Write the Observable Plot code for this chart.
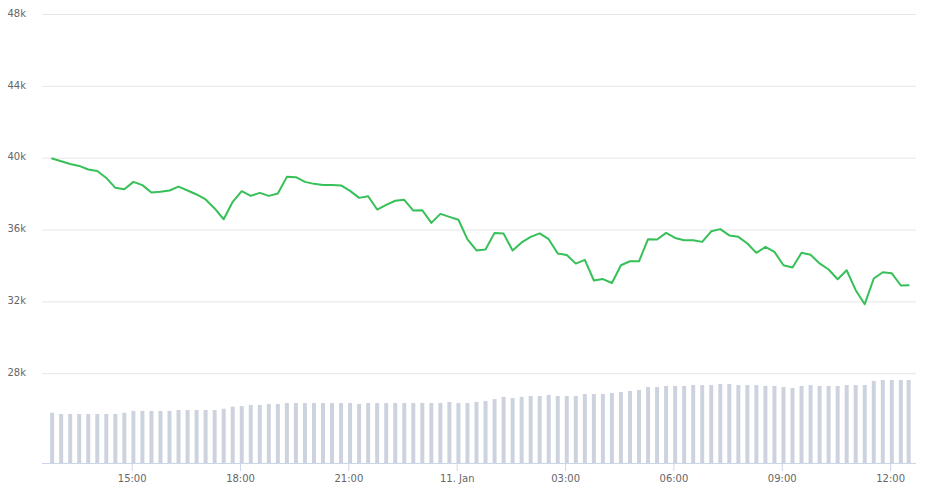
<!DOCTYPE html>
<html>
<head>
<meta charset="utf-8">
<script src="https://cdn.jsdelivr.net/npm/d3@7"></script>
<script src="https://cdn.jsdelivr.net/npm/@observablehq/plot@0.6"></script>
<style>
  html, body { margin: 0; padding: 0; background: #fff; }
  #chart svg { display: block; }
</style>
</head>
<body>
<div id="chart"></div>
<script>
// Price series (15-minute samples, last one a partial interval)
const prices = [
  39980, 39830, 39680, 39570, 39370, 39290, 38900, 38350, 38270, 38680,
  38500, 38090, 38130, 38200, 38420, 38200, 37980, 37700, 37200, 36600,
  37570, 38160, 37900, 38070, 37900, 38030, 38960, 38940, 38680, 38570,
  38510, 38500, 38480, 38180, 37790, 37880, 37140, 37400, 37630, 37680,
  37080, 37100, 36400, 36900, 36730, 36570, 35480, 34860, 34920, 35840,
  35800, 34860, 35310, 35620, 35810, 35490, 34690, 34610, 34130, 34340,
  33190, 33270, 33050, 34040, 34260, 34260, 35490, 35470, 35840, 35560,
  35430, 35430, 35340, 35930, 36050, 35700, 35620, 35250, 34730, 35060,
  34780, 34040, 33910, 34730, 34620, 34140, 33800, 33260, 33760, 32650,
  31870, 33300, 33650, 33590, 32910, 32930
];
// Bar series (top of each bar, read on the same axis)
const bars = [
  25800, 25730, 25730, 25730, 25730, 25730, 25730, 25730, 25800, 25900,
  25900, 25900, 25900, 25900, 25950, 25950, 25950, 25950, 25950, 26020,
  26140, 26170, 26230, 26230, 26290, 26290, 26340, 26340, 26340, 26340,
  26340, 26340, 26340, 26340, 26290, 26340, 26340, 26340, 26340, 26340,
  26340, 26340, 26340, 26340, 26400, 26340, 26340, 26400, 26450, 26560,
  26680, 26620, 26680, 26730, 26730, 26790, 26730, 26730, 26730, 26840,
  26840, 26840, 26900, 26950, 27010, 27070, 27230, 27230, 27290, 27290,
  27290, 27340, 27340, 27340, 27400, 27400, 27340, 27340, 27340, 27290,
  27290, 27230, 27180, 27290, 27340, 27290, 27290, 27290, 27340, 27340,
  27340, 27570, 27620, 27620, 27620, 27620
];
// Time stamps: regular 15-minute steps, then a final partial point
const startTime = new Date(Date.UTC(2021, 0, 10, 12, 47));
const lastTime = new Date(Date.UTC(2021, 0, 11, 12, 30));
const times = prices.map((_, i) => i < prices.length - 1 ? d3.utcMinute.offset(startTime, 15 * i) : lastTime);

const yTicks = [28000, 32000, 36000, 40000, 44000, 48000];
const xTicks = [
  new Date(Date.UTC(2021, 0, 10, 15)), new Date(Date.UTC(2021, 0, 10, 18)),
  new Date(Date.UTC(2021, 0, 10, 21)), new Date(Date.UTC(2021, 0, 11, 0)),
  new Date(Date.UTC(2021, 0, 11, 3)), new Date(Date.UTC(2021, 0, 11, 6)),
  new Date(Date.UTC(2021, 0, 11, 9)), new Date(Date.UTC(2021, 0, 11, 12))
];
const xDomain = [new Date(Date.UTC(2021, 0, 10, 12, 31)), new Date(Date.UTC(2021, 0, 11, 12, 43))];
const yMin = 23000, yMax = 48000;

const data = times.map((t, i) => ({t, price: prices[i], bar: bars[i]}));

const fmtX = d => d.getUTCHours() === 0 ? d.getUTCDate() + ". " + d3.utcFormat("%b")(d) : d3.utcFormat("%H:%M")(d);

const chart = Plot.plot({
  width: 927,
  height: 503,
  marginLeft: 42,
  marginRight: 11,
  marginTop: 14,
  marginBottom: 40,
  style: {fontFamily: "DejaVu Sans, sans-serif", fontSize: "10px", background: "#fff"},
  x: {type: "utc", domain: xDomain},
  y: {domain: [yMin, yMax]},
  marks: [
    Plot.gridY(yTicks, {stroke: "#e6e6e6", strokeOpacity: 1}),
    Plot.ruleX(data, {x: "t", y1: yMin, y2: "bar", stroke: "#ccd3df", strokeWidth: 4}),
    Plot.ruleY([yMin], {stroke: "#ccd6eb"}),
    Plot.line(data, {x: "t", y: "price", stroke: "#36c057", strokeWidth: 2, curve: "linear"}),
    Plot.axisY({ticks: yTicks, tickFormat: d => (d / 1000) + "k", tickSize: 0, tickPadding: 0, textAnchor: "start", dx: -35, dy: -1, fill: "#666", label: null}),
    Plot.axisX({ticks: xTicks, tickFormat: fmtX, tickSize: 8, tickPadding: 3, stroke: "#ccd6eb", fill: "#666", label: null})
  ]
});
document.getElementById("chart").appendChild(chart);
</script>
</body>
</html>
